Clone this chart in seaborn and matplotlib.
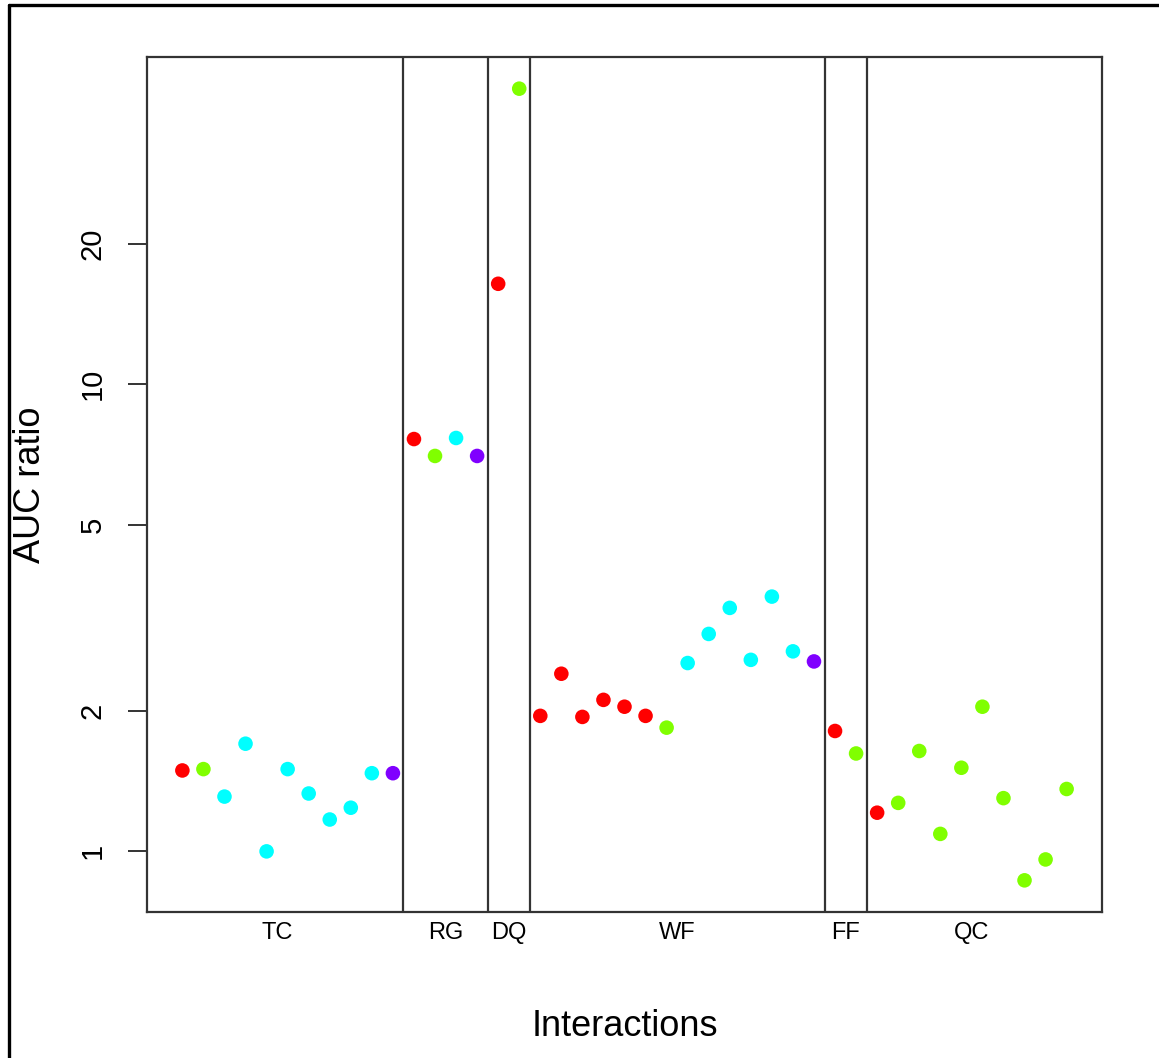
import numpy as np
import pandas as pd
import seaborn as sns
import matplotlib.pyplot as plt
from matplotlib.lines import Line2D

# groups along the x axis and how many interactions each one holds
groups = ["TC", "RG", "DQ", "WF", "FF", "QC"]
group_sizes = [11, 4, 2, 14, 2, 10]

# AUC ratio per interaction
auc_ratio = [
    1.49, 1.50, 1.31, 1.70, 1.00, 1.50, 1.33, 1.17, 1.24, 1.47, 1.47,   # TC
    7.63, 7.02, 7.67, 7.02,                                             # RG
    16.4, 42.9,                                                         # DQ
    1.95, 2.40, 1.94, 2.11, 2.04, 1.95, 1.84,                           # WF
    2.53, 2.92, 3.32, 2.57, 3.51, 2.68, 2.55,
    1.81, 1.62,                                                         # FF
    1.21, 1.27, 1.64, 1.09, 1.51, 2.04, 1.30, 0.867, 0.961, 1.36,       # QC
]

# colour class of every point (R rainbow(4))
point_class = (
    list("rgccccccccp")
    + list("rgcp")
    + list("rg")
    + list("rrrrrrgccccccp")
    + list("rg")
    + list("rggggggggg")
)
palette = {"r": "#FF0000", "g": "#80FF00", "c": "#00FFFF", "p": "#8000FF"}

y_ticks = [1, 2, 5, 10, 20]

df = pd.DataFrame({
    "idx": np.arange(1, len(auc_ratio) + 1),
    "auc": auc_ratio,
    "cls": point_class,
})

sns.set_style("white")
plt.rcParams["font.family"] = ["Liberation Sans", "DejaVu Sans"]
plt.rcParams["text.color"] = "black"
plt.rcParams["axes.labelcolor"] = "black"

fig = plt.figure(figsize=(11.59, 10.58), dpi=100)
ax = fig.add_axes([147 / 1159, 1 - 912 / 1058, 955 / 1159, 855 / 1058])

sns.scatterplot(data=df, x="idx", y="auc", hue="cls", palette=palette,
                s=110, linewidth=0, legend=False, ax=ax, zorder=3)

ax.set_yscale("log")

# R style 4% padding
n = len(auc_ratio)
pad = 0.04 * (n - 1)
ax.set_xlim(1 - pad, n + pad)
lo, hi = np.log10(min(auc_ratio)), np.log10(max(auc_ratio))
lpad = 0.04 * (hi - lo)
ax.set_ylim(10 ** (lo - lpad), 10 ** (hi + lpad))

# separators and group label positions
bounds = np.cumsum([0] + group_sizes) + 0.5
for b in bounds[1:-1]:
    ax.axvline(b, color="#333333", lw=1.6, zorder=2)
edges = bounds.copy()
edges[0] = -0.5
centers = (edges[:-1] + edges[1:]) / 2

ax.set_xticks(centers)
ax.set_xticklabels(groups, fontsize=17)
ax.tick_params(axis="x", length=0, pad=7, labelcolor="black")

ax.set_yticks(y_ticks)
ax.set_yticklabels([str(t) for t in y_ticks], fontsize=21, rotation=90, va="center")
ax.yaxis.set_minor_locator(plt.NullLocator())
ax.tick_params(axis="y", length=14, width=1.4, color="#333333", pad=15, left=True,
               labelcolor="black")

for sp in ax.spines.values():
    sp.set_color("#333333")
    sp.set_linewidth(1.6)

ax.set_xlabel("Interactions", fontsize=26)
ax.set_ylabel("AUC ratio", fontsize=26)
ax.xaxis.set_label_coords(0.5, (912 - 1026) / 855)
ax.xaxis.label.set_va("center")
ax.yaxis.set_label_coords((30 - 147) / 955, 0.5)
ax.yaxis.label.set_va("center")

# outer frame of the screenshot (left and top)
fig.add_artist(Line2D([9 / 1159, 9 / 1159], [0, 1 - 5 / 1058], color="black", lw=2.4,
                      transform=fig.transFigure))
fig.add_artist(Line2D([9 / 1159, 1], [1 - 5 / 1058, 1 - 5 / 1058], color="black", lw=2.4,
                      transform=fig.transFigure))

fig.savefig("out.png", dpi=100)
